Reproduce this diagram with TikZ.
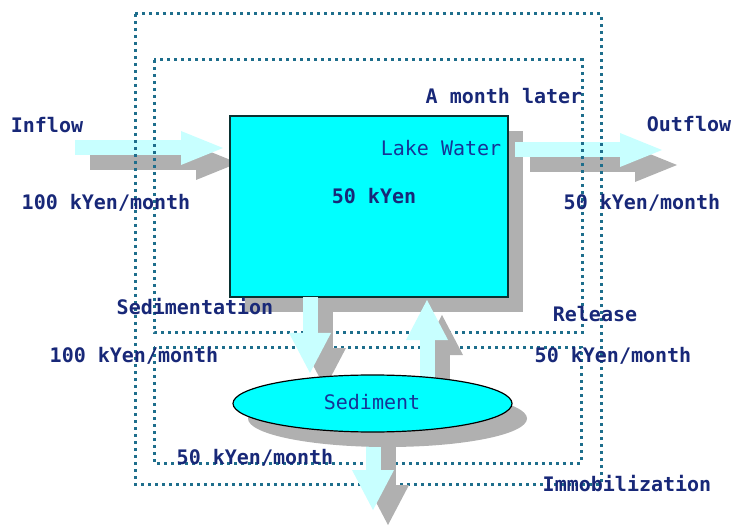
\documentclass[tikz,border=0pt]{standalone}
\usepackage{fontspec}
\usetikzlibrary{arrows.meta,shapes.geometric}
\newfontfamily\monofnt{DejaVu Sans Mono}

\definecolor{inkblue}{RGB}{24,40,120}
\definecolor{softblue}{RGB}{22,52,150}
\definecolor{dotteal}{RGB}{30,110,140}
\definecolor{pale}{RGB}{200,255,255}
\definecolor{shade}{RGB}{176,176,176}
\definecolor{lakecyan}{RGB}{0,255,255}
\definecolor{rim}{RGB}{10,50,50}

\tikzset{
  lbl/.style={text=inkblue, inner sep=0pt,
    font=\monofnt\bfseries\fontsize{20}{24}\selectfont},
  plainlbl/.style={text=softblue, inner sep=0pt,
    font=\monofnt\fontsize{20}{24}\selectfont},
  boundary/.style={draw=dotteal, line width=3pt, dash pattern=on 3pt off 4pt},
  hflow/.style={line width=15pt, -{Triangle[width=34pt,length=42pt,line width=0pt]}},
  vflow/.style={line width=15pt, -{Triangle[width=42pt,length=40pt,line width=0pt]}},
  lit/.style={draw=pale},
  dropped/.style={draw=shade, transform canvas={shift={(15,15)}}},
  lakebox/.style={rectangle, minimum width=278pt, minimum height=181pt, inner sep=0pt},
  sedoval/.style={ellipse, minimum width=279pt, minimum height=57pt, inner sep=0pt},
}

\begin{document}
\begin{tikzpicture}[x=1pt,y=-1pt]
\useasboundingbox (0,0) rectangle (733,526);

% end points of the block arrows
\coordinate (inS)  at (75,148);
\coordinate (inE)  at (223,148);
\coordinate (outS) at (515,150);
\coordinate (outE) at (662,150);
\coordinate (sedS) at (310,297);
\coordinate (sedE) at (310,373);
\coordinate (relS) at (427,400);
\coordinate (relE) at (427,300);
\coordinate (immS) at (373,425);
\coordinate (immE) at (373,510);

% inflow
\draw[hflow, dropped] (inS) -- (inE);
\draw[hflow, lit] (inS) -- (inE);

% lake compartment shadow
\node[lakebox, fill=shade] (lakeshadow) at (384,221.5) {};

% outflow
\draw[hflow, dropped] (outS) -- (outE);
\draw[hflow, lit] (outS) -- (outE);

% lake compartment
\node[lakebox, fill=lakecyan, draw=rim, line width=1.2pt] (lake) at (369,206.5) {};

% system boundaries
\draw[boundary] (135,14) rectangle (601,484);
\draw[boundary] (154,60) rectangle (582,333);
\draw[boundary] (154,347) rectangle (581,463);

% immobilization
\draw[vflow, dropped] (immS) -- (immE);
\draw[vflow, lit] (immS) -- (immE);

% sediment shadow
\node[sedoval, fill=shade] (sedshadow) at (387.5,418.5) {};

% sedimentation and release
\draw[vflow, dropped] (sedS) -- (sedE);
\draw[vflow, dropped] (relS) -- (relE);
\draw[vflow, lit] (sedS) -- (sedE);
\draw[vflow, lit] (relS) -- (relE);

% sediment compartment
\node[sedoval, fill=lakecyan, draw=black, line width=1.2pt] (sed) at (372.5,403.5) {};

% labels
\node[plainlbl] (lakename) at (441,148) {Lake Water};
\node[lbl] (lakeamt) at (374,196) {50 kYen};
\node[plainlbl] (sedname) at (372,402) {Sediment};
\node[lbl] (later) at (504,96) {A month later};
\node[lbl] (inlbl) at (47,125) {Inflow};
\node[lbl] (inrate) at (106,203) {100 kYen/month};
\node[lbl] (outlbl) at (689,124) {Outflow};
\node[lbl] (outrate) at (642,203) {50 kYen/month};
\node[lbl] (sedlbl) at (195,307) {Sedimentation};
\node[lbl] (sedrate) at (134,356) {100 kYen/month};
\node[lbl] (rellbl) at (595,314) {Release};
\node[lbl] (relrate) at (613,356) {50 kYen/month};
\node[lbl] (immrate) at (255,458) {50 kYen/month};
\node[lbl] (immlbl) at (627,484) {Immobilization};
\end{tikzpicture}
\end{document}
